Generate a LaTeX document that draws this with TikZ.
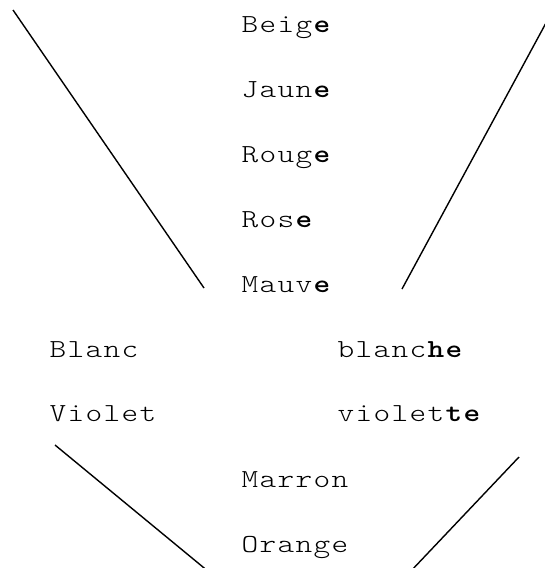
\documentclass[tikz,border=0pt]{standalone}
\usepackage{fontspec}
\newfontfamily\cour[Extension=.otf, UprightFont=*-regular, BoldFont=*-bold, FakeStretch=1.22]{lmmonolt10}
\newlength\pitch
\setlength\pitch{18pt}
\def\lsend{lsend-marker}
\newcommand\spaced[1]{\lsloop#1\lsend}
\def\lsloop#1{\ifx#1\lsend\else\makebox[\pitch][c]{#1}\expandafter\lsloop\fi}
\tikzset{
  word/.style={anchor=base west, inner sep=0pt, outer sep=0pt, font=\cour\fontsize{26}{28}\selectfont},
  stroke/.style={line width=1.4pt, line cap=butt}
}
\begin{document}
\begin{tikzpicture}[x=1pt, y=-1pt]
\useasboundingbox (0,0) rectangle (545,568);
\clip (0,0) rectangle (545,568);
% words (upper column)
\node[word] (beige) at (241,32) {\spaced{Beig{\bfseries e}}};
\node[word] (jaune) at (241,97) {\spaced{Jaun{\bfseries e}}};
\node[word] (rouge) at (241,162) {\spaced{Roug{\bfseries e}}};
\node[word] (rose)  at (241,227) {\spaced{Ros{\bfseries e}}};
\node[word] (mauve) at (241,292) {\spaced{Mauv{\bfseries e}}};
% two columns
\node[word] (blanc)    at (49,357)  {\spaced{Blanc}};
\node[word] (blanche)  at (337,357) {\spaced{blanc{\bfseries h}{\bfseries e}}};
\node[word] (violet)   at (49,421)  {\spaced{Violet}};
\node[word] (violette) at (337,421) {\spaced{violet{\bfseries t}{\bfseries e}}};
% lower column
\node[word] (marron) at (241,487) {\spaced{Marron}};
\node[word] (orange) at (241,552) {\spaced{Orange}};
% strokes
\coordinate (ulA) at (13,10);
\coordinate (ulB) at (204,288);
\coordinate (urA) at (553,10);
\coordinate (urB) at (402,289);
\coordinate (llA) at (55,445);
\coordinate (llB) at (209,572);
\coordinate (lrA) at (519,457);
\coordinate (lrB) at (410,572);
\draw[stroke] (ulA) -- (ulB);
\draw[stroke] (urA) -- (urB);
\draw[stroke] (llA) -- (llB);
\draw[stroke] (lrA) -- (lrB);
\end{tikzpicture}
\end{document}
